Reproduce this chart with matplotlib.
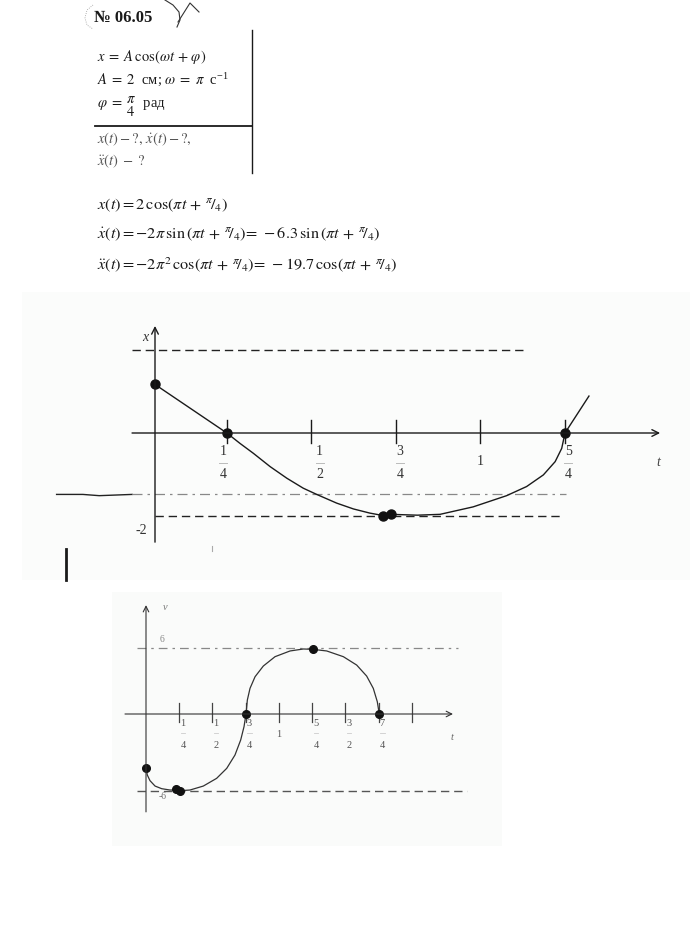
import matplotlib
matplotlib.use("Agg")
import matplotlib.pyplot as plt

plt.rcParams['mathtext.fontset'] = 'stix'
plt.rcParams['font.family'] = ['Liberation Serif', 'DejaVu Serif']

# ---------------- data: graph 1 (x(t), cm) ----------------
g1_curve_t = [0.000, 0.219, 0.259, 0.300, 0.351, 0.402, 0.452, 0.493, 0.554, 0.605,
              0.655, 0.696, 0.719, 0.800, 0.869, 0.970, 1.072, 1.133, 1.184, 1.220,
              1.240, 1.250, 1.323]
g1_curve_x = [1.17, 0.00, -0.25, -0.49, -0.81, -1.09, -1.33, -1.48, -1.69, -1.83,
              -1.93, -1.99, -1.96, -1.98, -1.96, -1.78, -1.51, -1.29, -1.01, -0.69,
              -0.37, 0.00, 0.89]
g1_dots_t = [0.001, 0.219, 0.696, 0.719, 1.250]
g1_dots_x = [1.17, 0.00, -1.99, -1.96, 0.00]
g1_tick_t = [0.219, 0.476, 0.735, 0.990, 1.250]
g1_tick_num = ['1', '1', '3', '1', '5']
g1_tick_den = ['4', '2', '4', '', '4']
g1_amp = 2.0
g1_mid_level = -1.48

# ---------------- data: graph 2 (v(t)) ----------------
g2_curve_t = [0.000, 0.010, 0.030, 0.068, 0.118, 0.180, 0.231, 0.261, 0.331, 0.431,
              0.531, 0.607, 0.669, 0.712, 0.737, 0.752, 0.762, 0.782, 0.820, 0.882,
              0.970, 1.083, 1.183, 1.253, 1.359, 1.484, 1.584, 1.659, 1.709, 1.739,
              1.754]
g2_curve_v = [-4.94, -5.55, -6.06, -6.55, -6.79, -6.91, -6.91, -6.97, -6.91, -6.55,
              -5.85, -4.94, -3.73, -2.36, -1.15, 0.00, 1.27, 2.33, 3.39, 4.36,
              5.21, 5.73, 5.91, 5.88, 5.73, 5.21, 4.45, 3.45, 2.33, 1.12,
              0.00]
g2_dots_t = [0.000, 0.226, 0.256, 0.752, 1.253, 1.754]
g2_dots_v = [-4.94, -6.85, -6.97, 0.00, 5.90, 0.00]
g2_tick_t = [0.25, 0.50, 0.75, 1.00, 1.25, 1.50, 1.75, 2.00]
g2_tick_num = ['1', '1', '3', '1', '5', '3', '7', '']
g2_tick_den = ['4', '2', '4', '', '4', '2', '4', '']
g2_top_level = 6.0
g2_bottom_level = -7.0

# ---------------- text ----------------
title_txt = '№ 06.05'
given_lines = [r'$x\;=\;A\,\cos\!\left(\omega t\,+\,\varphi\right)$',
               r'$A\;=\;2$  см; $\omega\;=\;\pi$  с$^{\mathregular{-1}}$',
               r'$\varphi\;=\;\genfrac{}{}{0}{0}{\pi}{4}$  рад']
find_lines = [r'$x(t)-?,\,\dot{x}(t)-?,$', r'$\ddot{x}(t)\;-\;?$']
FR = r'{}^{\pi}\!/_{4}'
formula_lines = [
    r'$x(t) = 2\,\cos\!\left(\pi t\,+\,' + FR + r'\right)$',
    r'$\dot{x}(t) = -2\pi\,\sin\left(\pi t\,+\,' + FR + r'\right)\!=\,-6.3\,\sin\left(\pi t\,+\,' + FR + r'\right)$',
    r'$\ddot{x}(t) = -2\pi^{2}\,\cos\!\left(\pi t\,+\,' + FR + r'\right)\!=\,-19.7\,\cos\!\left(\pi t\,+\,' + FR + r'\right)$',
]

W, H = 690, 932
fig = plt.figure(figsize=(W / 100, H / 100), dpi=100)
fig.patch.set_facecolor('white')

ax0 = fig.add_axes([0, 0, 1, 1])
ax0.set_xlim(0, W)
ax0.set_ylim(H, 0)
ax0.axis('off')

INK = '#1a1a1a'
GREY = '#555555'

# faint scan backgrounds
ax0.add_patch(plt.Rectangle((22, 292), 668, 288, color='#fbfcfb', lw=0, zorder=0))
ax0.add_patch(plt.Rectangle((112, 592), 390, 254, color='#fafbfa', lw=0, zorder=0))

# header and decorations
ax0.text(94, 18, title_txt, fontsize=12, fontweight='bold', ha='left', va='center',
         color=INK, family=['Liberation Serif', 'DejaVu Serif'])
ax0.plot([165, 173, 179, 180, 177], [0, 5, 12, 20, 27], color='#333', lw=0.8)
ax0.plot([178, 190, 199], [22, 3, 12], color='#333', lw=0.8)
ax0.plot([93, 87, 85, 87, 93], [5, 10, 18, 25, 29], color='#999', lw=0.6, ls=':')

# given block
ax0.text(97, 57, given_lines[0], fontsize=10.5, ha='left', va='center', color=INK)
ax0.text(97, 79, given_lines[1], fontsize=10.5, ha='left', va='center', color=INK)
ax0.text(97, 107, given_lines[2], fontsize=10.5, ha='left', va='center', color=INK)
ax0.plot([95, 252], [126, 126], color=INK, lw=1.3)
ax0.plot([252, 252], [30, 173], color=INK, lw=1.0)
ax0.text(97, 139, find_lines[0], fontsize=10.5, ha='left', va='center', color=GREY)
ax0.text(97, 161, find_lines[1], fontsize=10.5, ha='left', va='center', color=GREY)

for y, s in zip([205, 234, 265], formula_lines):
    ax0.text(97, y, s, fontsize=11.7, ha='left', va='center', color=INK)

# stray marks of the scan
ax0.plot([66, 66], [549, 580], color=INK, lw=2.0)
ax0.plot([212, 212], [546, 551], color='#aaa', lw=0.8)


def px_axes(x0, y0, x1, y1):
    a = fig.add_axes([x0 / W, 1 - y1 / H, (x1 - x0) / W, (y1 - y0) / H])
    a.patch.set_alpha(0)
    a.axis('off')
    return a


# ================= graph 1 =================
T0, PT, X0, PX = 155, 328.0, 433, 41.5
ax1 = px_axes(40, 320, 680, 560)
ax1.set_xlim((40 - T0) / PT, (680 - T0) / PT)
ax1.set_ylim((X0 - 560) / PX, (X0 - 320) / PX)

arrow_kw = dict(arrowstyle='->', lw=1.0, color=INK, shrinkA=0, shrinkB=0,
                mutation_scale=12)
ax1.annotate('', xy=(1.54, 0), xytext=(-0.07, 0), arrowprops=arrow_kw)
ax1.annotate('', xy=(0, 2.58), xytext=(0, -2.63), arrowprops=arrow_kw)

ax1.plot([-0.07, 1.128], [g1_amp, g1_amp], color='#222', lw=1.0, dashes=(6, 3.5))
ax1.plot([0.0, 1.247], [-g1_amp, -g1_amp], color='#222', lw=1.0, dashes=(6, 3.5))
ax1.plot([-0.30, -0.22, -0.17, -0.07], [g1_mid_level, g1_mid_level, g1_mid_level - 0.03,
         g1_mid_level], color='#222', lw=1.0)
ax1.plot([-0.07, 1.253], [g1_mid_level, g1_mid_level], color='#888', lw=0.9,
         dashes=(8, 4, 2, 4))

for t in g1_tick_t:
    ax1.plot([t, t], [0.31, -0.24], color=INK, lw=1.0)

ax1.plot(g1_curve_t, g1_curve_x, color=INK, lw=1.0)
ax1.plot(g1_dots_t, g1_dots_x, 'o', ms=6.5, color='#111')

lab_dt = [-0.012, 0.026, 0.012, 0.003, 0.01]
for t, n, d, dt in zip(g1_tick_t, g1_tick_num, g1_tick_den, lab_dt):
    if d:
        ax1.text(t + dt, -0.45, n, fontsize=10, ha='center', va='center', color='#333')
        ax1.plot([t + dt - 0.012, t + dt + 0.012], [-0.72, -0.72], color='#bbb', lw=0.7)
        ax1.text(t + dt, -1.0, d, fontsize=10, ha='center', va='center', color='#333')
    else:
        ax1.text(t + dt, -0.68, n, fontsize=10, ha='center', va='center', color='#333')
ax1.text(-0.03, 2.3, 'x', fontsize=10, style='italic', ha='center', va='center', color='#333')
ax1.text(-0.042, -2.34, '-2', fontsize=10, ha='center', va='center', color='#333')
ax1.text(1.534, -0.72, 't', fontsize=10, style='italic', ha='center', va='center', color='#444')

# ================= graph 2 =================
T0b, PTb, V0, PV = 146, 133.0, 714, 11.0
ax2 = px_axes(110, 590, 500, 850)
ax2.set_xlim((110 - T0b) / PTb, (500 - T0b) / PTb)
ax2.set_ylim((V0 - 850) / PV, (V0 - 590) / PV)

arrow_kw2 = dict(arrowstyle='->', lw=0.8, color='#333', shrinkA=0, shrinkB=0,
                 mutation_scale=10)
ax2.annotate('', xy=(2.308, 0), xytext=(-0.158, 0), arrowprops=arrow_kw2)
ax2.annotate('', xy=(0, 9.9), xytext=(0, -8.9), arrowprops=arrow_kw2)

ax2.plot([-0.068, 2.346], [g2_top_level, g2_top_level], color='#888', lw=0.9,
         dashes=(7, 4, 2, 4))
ax2.plot([-0.068, 2.41], [g2_bottom_level, g2_bottom_level], color='#555', lw=1.0,
         dashes=(6, 3.5))

for t in g2_tick_t:
    ax2.plot([t, t], [1.0, -0.7], color='#444', lw=0.9)

ax2.plot(g2_curve_t, g2_curve_v, color='#333', lw=0.9)
ax2.plot(g2_dots_t, g2_dots_v, 'o', ms=5.5, color='#111')

for t, n, d in zip(g2_tick_t, g2_tick_num, g2_tick_den):
    if n and d:
        ax2.text(t + 0.025, -0.9, n, fontsize=7.5, ha='center', va='center', color='#555')
        ax2.plot([t + 0.01, t + 0.045], [-1.75, -1.75], color='#ccc', lw=0.6)
        ax2.text(t + 0.03, -2.85, d, fontsize=7.5, ha='center', va='center', color='#555')
    elif n:
        ax2.text(t, -1.9, n, fontsize=7.5, ha='center', va='center', color='#555')
ax2.text(0.12, 6.8, '6', fontsize=7, ha='center', va='center', color='#888')
ax2.text(0.128, -7.5, '-6', fontsize=7, ha='center', va='center', color='#777')
ax2.text(0.143, 9.7, 'v', fontsize=7.5, style='italic', ha='center', va='center', color='#777')
ax2.text(2.30, -2.1, 't', fontsize=7.5, style='italic', ha='center', va='center', color='#666')

fig.savefig('out.png', dpi=100)
